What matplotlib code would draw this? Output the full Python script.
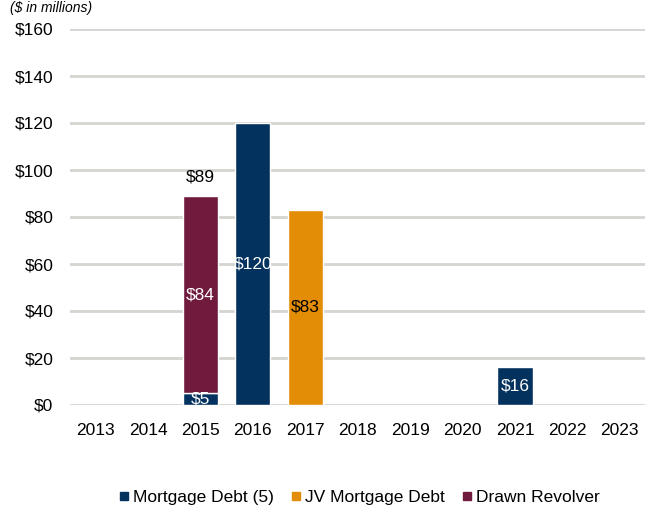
import matplotlib
matplotlib.use("Agg")
import matplotlib.pyplot as plt
from matplotlib.lines import Line2D
import numpy as np

plt.rcParams['font.family'] = ['Liberation Sans', 'DejaVu Sans']

years = ['2013', '2014', '2015', '2016', '2017', '2018', '2019', '2020', '2021', '2022', '2023']
mortgage_debt = [0, 0, 5, 120, 0, 0, 0, 0, 16, 0, 0]
jv_mortgage_debt = [0, 0, 0, 0, 83, 0, 0, 0, 0, 0, 0]
drawn_revolver = [0, 0, 84, 0, 0, 0, 0, 0, 0, 0, 0]
y_ticks = [0, 20, 40, 60, 80, 100, 120, 140, 160]

navy = '#04325f'
orange = '#e38c06'
maroon = '#701a3e'

fig = plt.figure(figsize=(6.45, 5.07), dpi=100)
ax = fig.add_axes([69.5 / 645, 1 - 405 / 507, 576.5 / 645, 376 / 507])

x = np.arange(len(years))
mort = np.array(mortgage_debt, dtype=float)
jv = np.array(jv_mortgage_debt, dtype=float)
rev = np.array(drawn_revolver, dtype=float)
w = 0.67


def draw_series(vals, bottom, color):
    idx = vals > 0
    ax.bar(x[idx], vals[idx], width=w, bottom=bottom[idx], color=color,
           edgecolor='white', linewidth=1, zorder=3)


draw_series(mort, np.zeros_like(mort), navy)
draw_series(jv, mort, orange)
draw_series(rev, mort + jv, maroon)

fs = 12.5
for i in range(len(years)):
    if mort[i] > 0:
        ax.text(x[i], mort[i] / 2, f'${mort[i]:.0f}', ha='center', va='center',
                color='white', fontsize=fs, zorder=4)
    if jv[i] > 0:
        ax.text(x[i], mort[i] + jv[i] / 2, f'${jv[i]:.0f}', ha='center', va='center',
                color='black', fontsize=fs, zorder=4)
    if rev[i] > 0:
        base = mort[i] + jv[i]
        ax.text(x[i], base + rev[i] / 2, f'${rev[i]:.0f}', ha='center', va='center',
                color='white', fontsize=fs, zorder=4)
        total = base + rev[i]
        ax.text(x[i], total + 5, f'${total:.0f}', ha='center', va='bottom',
                color='black', fontsize=fs, zorder=4)

ax.set_xlim(-0.5, len(years) - 0.5)
ax.set_ylim(0, 160)
ax.set_yticks(y_ticks)
ax.set_yticklabels([f'${v}' for v in y_ticks], fontsize=fs)
ax.set_xticks(x)
ax.set_xticklabels(years, fontsize=fs)
ax.tick_params(axis='both', length=0)
ax.tick_params(axis='y', pad=11.5)
ax.tick_params(axis='x', pad=13)
for s in ax.spines.values():
    s.set_visible(False)
ax.yaxis.grid(True, color='#d4d4d0', linewidth=2, zorder=0)
ax.set_axisbelow(True)

fig.text(0.016, 0.999, '($ in millions)', fontsize=10, style='italic',
         ha='left', va='top')

handles = [Line2D([], [], marker='s', linestyle='none', markersize=5.5, color=c)
           for c in (navy, orange, maroon)]
fig.legend(handles, ['Mortgage Debt (5)', 'JV Mortgage Debt', 'Drawn Revolver'],
           loc='center', bbox_to_anchor=(0.555, 0.018), ncol=3, frameon=False,
           fontsize=fs, handletextpad=0.1, columnspacing=0.8, handlelength=0.9)

fig.savefig('out.png', dpi=100)
